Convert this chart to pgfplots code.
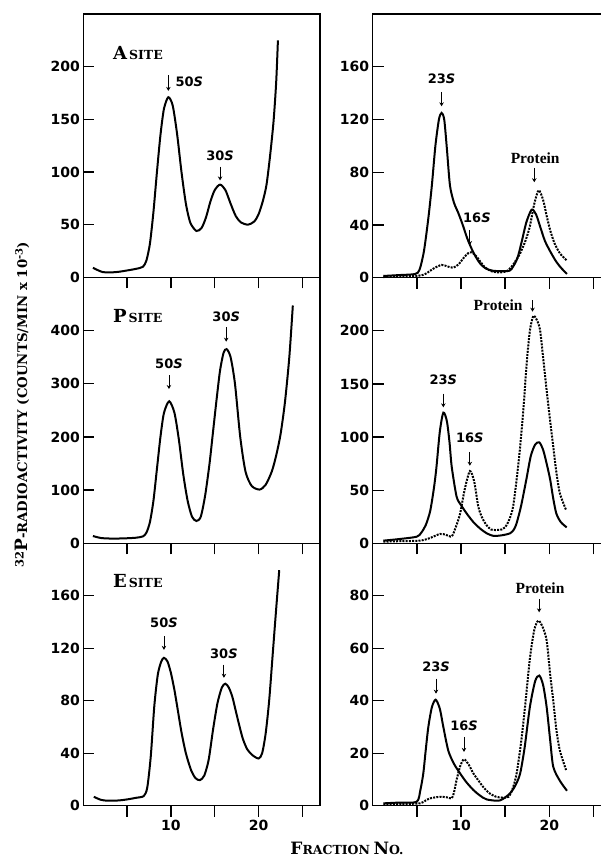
\documentclass[border=0pt]{standalone}
\usepackage{fontspec}
\setmainfont{Liberation Serif}
\newfontfamily\djs{DejaVu Sans}
\newfontfamily\djserif{DejaVu Serif}
\usepackage{pgfplots}
\pgfplotsset{compat=1.18}
\usetikzlibrary{arrows.meta}
\newcommand\ann[2]{{\djs\bfseries\fontsize{13}{13}\selectfont #1\textit{#2}}}
\newcommand\prot{{\bfseries\fontsize{15.5}{15.5}\selectfont Protein}}
\newcommand\site[1]{{\djserif\bfseries\fontsize{18}{18}\selectfont #1\hspace{2pt}\fontsize{12.5}{12.5}\selectfont SITE}}
\newcommand\tlfont{\djs\bfseries\fontsize{14}{14}\selectfont}
\tikzset{arr/.style={-{Stealth[length=4pt,width=4.5pt]}, line width=0.9pt}}
\pgfplotsset{
  panel/.style={scale only axis, xmin=0, xmax=27, ymin=0,
    xtick={5,10,15,20,25}, xticklabels={,,,,}, tick pos=left,
    xtick align=outside, ytick align=inside, major tick length=11pt,
    axis line style={line width=1.4pt},
    every tick/.style={line width=1.3pt, black},
    tick label style={font=\tlfont},
    /pgf/number format/assume math mode=true, clip=false},
  sol/.style={black, line width=2pt, smooth, tension=0.45},
  dot/.style={black, line width=2pt, dash pattern=on 2pt off 1.2pt, smooth, tension=0.45}
}
\begin{document}
\begin{tikzpicture}[x=1pt,y=1pt]
% ---------- Row 1 left: A site
\begin{axis}[panel, at={(83.3pt,-277.3pt)}, anchor=south west, width=236.7pt, height=263.3pt,
  ymax=250, ytick={0,50,100,150,200}]
\addplot[sol] coordinates {(1.1,9)(1.6,7)(2.2,5)(3.0,4.6)(4.0,5.2)(5.0,6.5)(6.0,8)(6.8,10)(7.2,16)(7.6,32)(8.0,62)(8.4,100)(8.8,135)(9.2,160)(9.7,171)(10.2,163)(10.7,136)(11.2,100)(11.7,70)(12.2,52)(12.9,44)(13.5,47)(14.0,57)(14.5,72)(15.0,83)(15.6,88)(16.2,83)(16.8,70)(17.4,58)(18.0,52)(18.8,50)(19.5,53)(20.0,60)(20.5,73)(20.9,88)(21.3,115)(21.7,148)(22.0,185)(22.2,225)};
\node[anchor=west] at (axis cs:3.0,213) {\site{A}};
\draw[arr] (axis cs:9.7,192) -- (axis cs:9.7,177);
\node at (axis cs:12.1,186) {\ann{50}{S}};
\node at (axis cs:15.6,115) {\ann{30}{S}};
\draw[arr] (axis cs:15.6,105) -- (axis cs:15.6,92);
\end{axis}
% ---------- Row 1 right
\begin{axis}[panel, at={(372.7pt,-277.7pt)}, anchor=south west, width=238.4pt, height=263.7pt,
  ymax=200, ytick={0,40,80,120,160}]
\addplot[sol] coordinates {(1.2,1.3)(3.0,2)(4.8,2.8)(5.3,6)(5.8,20)(6.3,45)(6.7,70)(7.1,100)(7.5,120)(7.8,125)(8.1,120)(8.4,98)(8.75,70)(9.2,57)(9.7,49)(10.2,40)(10.7,30)(11.2,22)(11.7,15.5)(12.2,10.5)(12.8,7)(13.6,5.3)(14.5,5)(15.5,5.3)(15.9,8.4)(16.4,15)(16.9,28)(17.4,42)(18.0,51.6)(18.5,48)(19.0,38)(19.5,28)(20.1,20)(20.8,12)(21.4,7)(22.0,2.8)};
\addplot[dot] coordinates {(1.2,0.5)(3.0,1)(5.2,1.5)(6.0,3)(6.9,7)(7.8,9.7)(8.5,8.5)(9.1,7.6)(9.7,10)(10.3,15)(10.8,18.5)(11.2,19.3)(11.7,16.5)(12.1,13)(12.7,8)(13.4,5)(14.3,4)(15.2,5)(15.8,9)(16.3,14)(16.7,18.5)(17.3,28)(17.8,39)(18.3,56)(18.8,66.3)(19.3,59)(19.7,47)(20.1,36)(20.6,26)(21.2,18.5)(22.0,13)};
\node at (axis cs:7.8,150.6) {\ann{23}{S}};
\draw[arr] (axis cs:7.8,141) -- (axis cs:7.8,130);
\node at (axis cs:11.8,45.5) {\ann{16}{S}};
\draw[arr] (axis cs:11.0,36.3) -- (axis cs:11.0,24.8);
\node at (axis cs:18.4,91) {\prot};
\draw[arr] (axis cs:18.3,83.3) -- (axis cs:18.3,72.4);
\end{axis}
% ---------- Row 2 left: P site
\begin{axis}[panel, at={(83.3pt,-543.3pt)}, anchor=south west, width=236.7pt, height=266pt,
  ymax=500, ytick={0,100,200,300,400}]
\addplot[sol] coordinates {(1.1,13.7)(2.0,10)(3.0,9)(4.0,9)(5.0,9.5)(6.0,10.5)(6.8,13)(7.2,20)(7.6,40)(8.0,80)(8.4,140)(8.8,200)(9.2,245)(9.8,267)(10.4,245)(10.9,195)(11.4,130)(11.9,80)(12.4,50)(12.9,42)(13.4,50)(13.9,90)(14.4,150)(14.8,210)(15.2,270)(15.6,325)(16.0,358)(16.35,365)(16.8,350)(17.3,300)(17.9,200)(18.5,135)(19.2,108)(20.1,101)(20.8,110)(21.5,135)(22.0,165)(22.5,205)(23.0,265)(23.5,350)(23.9,447)};
\node[anchor=west] at (axis cs:3.0,428) {\site{P}};
\node at (axis cs:9.77,337) {\ann{50}{S}};
\draw[arr] (axis cs:9.77,316) -- (axis cs:9.77,290);
\node at (axis cs:16.3,426) {\ann{30}{S}};
\draw[arr] (axis cs:16.3,406) -- (axis cs:16.3,379);
\end{axis}
% ---------- Row 2 right
\begin{axis}[panel, at={(372.7pt,-543.3pt)}, anchor=south west, width=238.4pt, height=265.6pt,
  ymax=250, ytick={0,50,100,150,200}]
\addplot[sol] coordinates {(1.2,2.5)(3.0,4)(4.98,6.2)(5.5,10)(6.0,17)(6.5,30)(6.9,50)(7.2,70)(7.6,105)(8.0,123)(8.4,115)(8.7,95)(8.95,72)(9.5,44)(10.0,36)(10.65,28)(11.4,20)(12.15,14)(12.9,9.5)(13.66,7)(14.6,7.5)(15.55,9.4)(16.0,13)(16.3,19)(16.8,35)(17.4,60)(17.9,82)(18.4,93)(18.87,95)(19.3,88)(19.7,75)(20.1,60)(20.45,42)(20.8,28)(21.3,20)(21.97,15)};
\addplot[dot] coordinates {(1.2,1.5)(3.0,2)(5.35,2.5)(6.5,5)(7.6,8.8)(8.3,8)(8.95,6.5)(9.4,15)(9.9,28)(10.4,50)(11.0,68)(11.5,58)(11.96,34.5)(12.4,24)(12.9,17)(13.4,13)(14.0,12.5)(14.6,13)(15.0,15)(15.5,23)(15.9,34.5)(16.3,60)(16.7,91)(17.1,130)(17.44,169.5)(17.8,200)(18.19,214)(18.6,210)(18.95,201)(19.3,175)(19.7,144)(20.1,115)(20.45,91)(20.8,67)(21.2,47)(21.9,31.4)};
\node at (axis cs:14.2,224) {\prot};
\draw[arr] (axis cs:18.1,229) -- (axis cs:18.1,218);
\node at (axis cs:8.0,154) {\ann{23}{S}};
\draw[arr] (axis cs:8.0,141) -- (axis cs:8.0,128);
\node at (axis cs:11.0,99) {\ann{16}{S}};
\draw[arr] (axis cs:11.0,86) -- (axis cs:11.0,73);
\end{axis}
% ---------- Row 3 left: E site
\begin{axis}[panel, at={(83.3pt,-805.7pt)}, anchor=south west, width=236.7pt, height=262.4pt,
  ymax=200, ytick={0,40,80,120,160}, xticklabels={,10,,20,}]
\addplot[sol] coordinates {(1.2,6.8)(2.0,4.5)(2.8,3.8)(4.0,4.0)(5.0,4.8)(6.0,6)(6.9,7.4)(7.3,14)(7.7,38)(8.1,76)(8.5,100)(8.9,110)(9.2,112.7)(9.6,110)(10.0,101)(10.4,88)(10.8,72)(11.2,56)(11.7,40)(12.3,27)(12.8,21)(13.3,19.5)(13.8,23)(14.3,35)(14.8,58)(15.3,78)(15.8,90)(16.2,93)(16.6,90)(17.0,83)(17.4,72)(17.8,61)(18.2,51)(18.7,43)(19.3,38.5)(20.0,36)(20.4,40)(20.8,55)(21.2,80)(21.6,115)(22.0,150)(22.35,179.5)};
\node[anchor=west] at (axis cs:3.0,171.4) {\site{E}};
\node at (axis cs:9.2,139.7) {\ann{50}{S}};
\draw[arr] (axis cs:9.2,129) -- (axis cs:9.2,118.8);
\node at (axis cs:16.04,115.7) {\ann{30}{S}};
\draw[arr] (axis cs:16.04,107.6) -- (axis cs:16.04,97.5);
\end{axis}
% ---------- Row 3 right
\begin{axis}[panel, at={(372.7pt,-805.7pt)}, anchor=south west, width=238.4pt, height=262.4pt,
  ymax=100, ytick={0,20,40,60,80}, xticklabels={,10,,20,}]
\addplot[sol] coordinates {(1.2,0.9)(3.0,1.2)(4.98,1.5)(5.4,6)(5.73,12.3)(6.0,21)(6.3,30)(6.7,37.5)(7.13,40.4)(7.6,37)(8.0,30)(8.56,21)(9.2,16)(9.9,12.3)(10.6,9)(11.4,6)(12.1,4)(12.9,2.4)(14.4,2)(15.55,4.7)(16.2,8)(16.7,12.3)(17.2,22)(17.8,37.6)(18.4,47.5)(18.87,49.6)(19.3,46)(19.7,37.6)(20.1,25)(20.45,14.8)(21.2,9.5)(22.0,5.7)};
\addplot[dot] coordinates {(1.2,0.3)(3.0,0.6)(5.35,0.9)(6.0,2)(6.5,2.8)(7.6,3.4)(8.4,3.2)(8.95,2.8)(9.2,5)(9.5,9.8)(9.9,15)(10.34,17.7)(10.9,15.5)(11.4,12.3)(12.0,9.5)(12.5,7.2)(13.2,4.8)(14.0,3.4)(14.7,3.1)(15.4,3.4)(15.9,7)(16.3,12.3)(16.8,24)(17.25,37.6)(17.8,56)(18.3,67)(18.75,70.5)(19.2,68.5)(19.7,63)(20.1,50)(20.45,40)(20.8,29)(21.2,21)(21.9,13.6)};
\node at (axis cs:18.95,82.9) {\prot};
\draw[arr] (axis cs:18.85,78.8) -- (axis cs:18.85,73.7);
\node at (axis cs:7.17,52.8) {\ann{23}{S}};
\draw[arr] (axis cs:7.17,48.4) -- (axis cs:7.17,42.7);
\node at (axis cs:10.34,30.6) {\ann{16}{S}};
\draw[arr] (axis cs:10.34,26.2) -- (axis cs:10.34,20.5);
\end{axis}
% ---------- axis titles
\node[rotate=90, font=\djserif\bfseries] at (22,-405) {\raisebox{3.5pt}{\fontsize{11.5}{11.5}\selectfont 32}{\fontsize{17}{17}\selectfont P}{\fontsize{13.3}{13.3}\selectfont -RADIOACTIVITY (COUNTS/MIN x 10\raisebox{4.5pt}{\fontsize{10}{10}\selectfont -3})}};
\node[font=\djserif\bfseries, anchor=base] at (347,-854) {{\fontsize{17}{17}\selectfont F}{\fontsize{12.5}{12.5}\selectfont RACTION} {\fontsize{17}{17}\selectfont N}{\fontsize{12.5}{12.5}\selectfont O.}};
\pgfresetboundingbox
\path[use as bounding box] (0,0) rectangle (601,-857);
\end{tikzpicture}
\end{document}
